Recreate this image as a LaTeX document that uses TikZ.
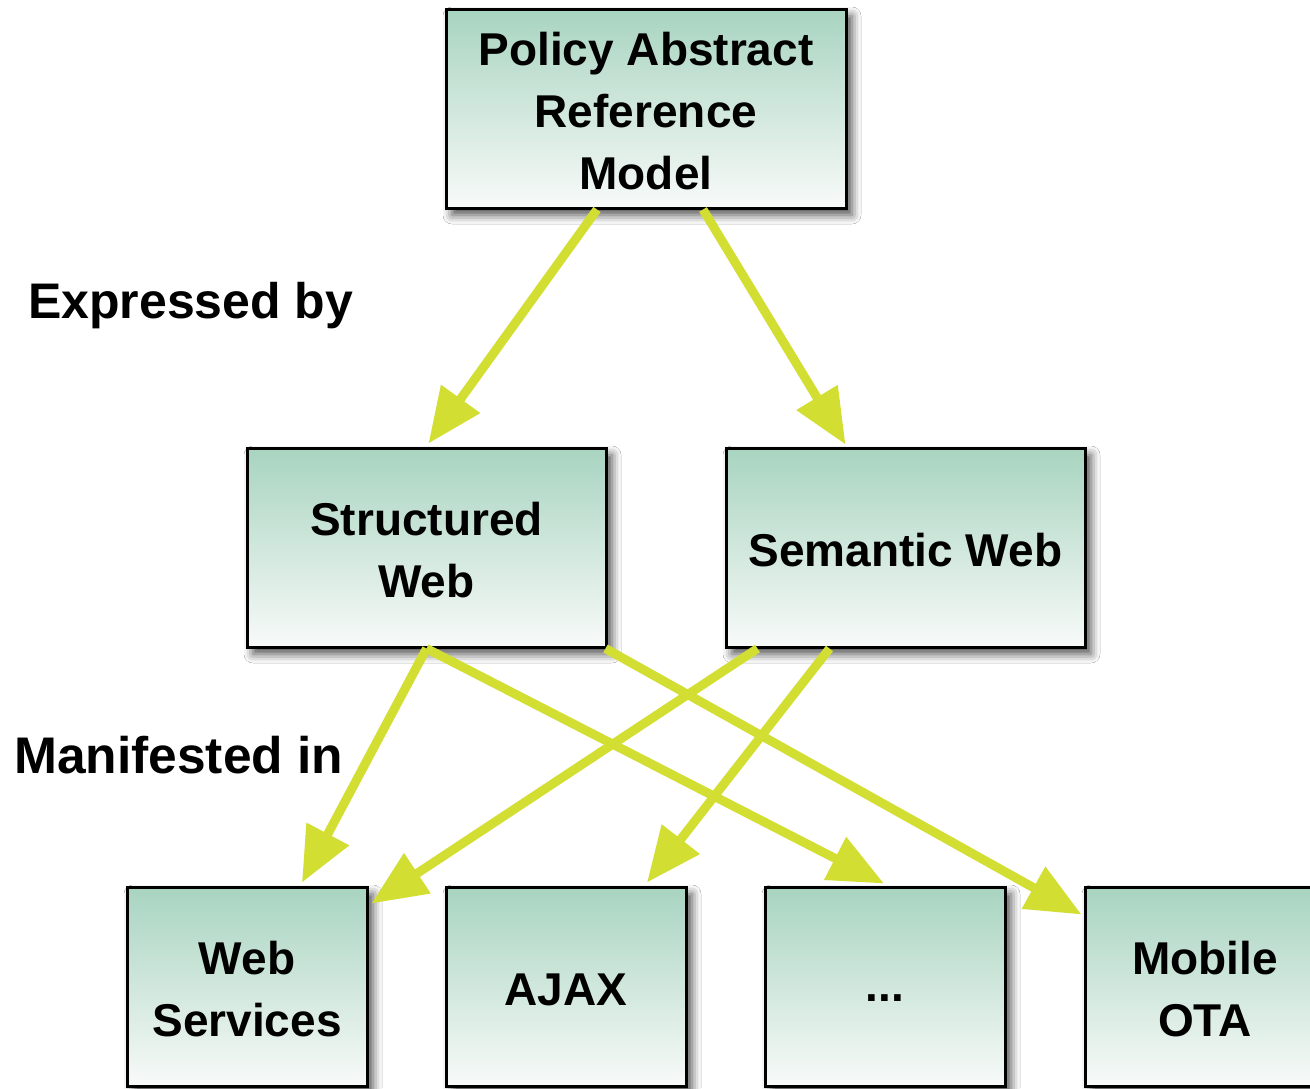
\documentclass[tikz,border=0pt]{standalone}
\usepackage{fontspec}
\setmainfont{Liberation Sans}
\usetikzlibrary{arrows.meta,shadows.blur,calc}
\definecolor{mint}{HTML}{A8D4C0}
\definecolor{palew}{HTML}{F8FAF9}
\definecolor{arrowyl}{HTML}{D3DE33}
\begin{document}
\begin{tikzpicture}[x=1pt,y=-1pt]
\tikzset{
  boxtext/.style={align=center, inner sep=0pt, font=\fontsize{46}{62}\selectfont\bfseries},
  box/.style={draw=black, line width=3pt, top color=mint, bottom color=palew,
    minimum height=199pt, inner sep=0pt,
    blur shadow={shadow xshift=6pt, shadow yshift=-7pt, shadow blur radius=9pt, shadow opacity=70}},
  widebox/.style={box, minimum width=400pt},
  midbox/.style={box, minimum width=359pt},
  smallbox/.style={box, minimum width=240pt},
  lbl/.style={font=\fontsize{50}{60}\selectfont\bfseries, anchor=base west, inner sep=0pt},
  conn/.style={draw=arrowyl, line width=9pt, -{Triangle[length=55pt,width=46pt]}}
}
\useasboundingbox (0,0) rectangle (1310,1088);
\clip (0,0) rectangle (1310,1088);
\fill[white] (0,0) rectangle (1310,1088);

\node[widebox, label={[boxtext, yshift=-3pt]center:Policy Abstract\\Reference\\Model}] (top) at (646,108.5) {};
\node[midbox, label={[boxtext, yshift=-3pt]center:Structured\\Web}] (sw) at (426.5,547.5) {};
\node[midbox, label={[boxtext, yshift=-3pt]center:Semantic Web}] (sem) at (905.5,547.5) {};
\node[smallbox, label={[boxtext, yshift=-3pt]center:Web\\Services}] (ws) at (247,986.5) {};
\node[smallbox, label={[boxtext, yshift=-3pt]center:AJAX}] (ajax) at (566,986.5) {};
\node[smallbox, label={[boxtext, yshift=-12pt]center:...}] (dots) at (885,986.5) {};
\node[smallbox, label={[boxtext, yshift=-3pt]center:Mobile\\OTA}] (mob) at (1205,986.5) {};

\node[lbl] (expr) at (28,318) {Expressed by};
\node[lbl, font=\fontsize{51.5}{60}\selectfont\bfseries] (manif) at (14,773) {Manifested in};

\draw[conn] ([xshift=-49pt]top.south) -- ([xshift=2pt,yshift=3pt]sw.north);
\draw[conn] ([xshift=57pt]top.south) -- ([xshift=-60pt,yshift=2pt]sem.north);
\draw[conn] (sw.south) -- ([xshift=55pt,yshift=3pt]ws.north);
\draw[conn] (sw.south) -- ([xshift=-1pt,yshift=2pt]dots.north);
\draw[conn] ([xshift=-2pt]sw.south east) -- ([xshift=-2pt,yshift=-29pt]mob.north west);
\draw[conn] ([xshift=-148pt]sem.south) -- ([xshift=3pt,yshift=-18pt]ws.north east);
\draw[conn] ([xshift=-76pt]sem.south) -- ([xshift=81pt,yshift=3pt]ajax.north);
\end{tikzpicture}
\end{document}
